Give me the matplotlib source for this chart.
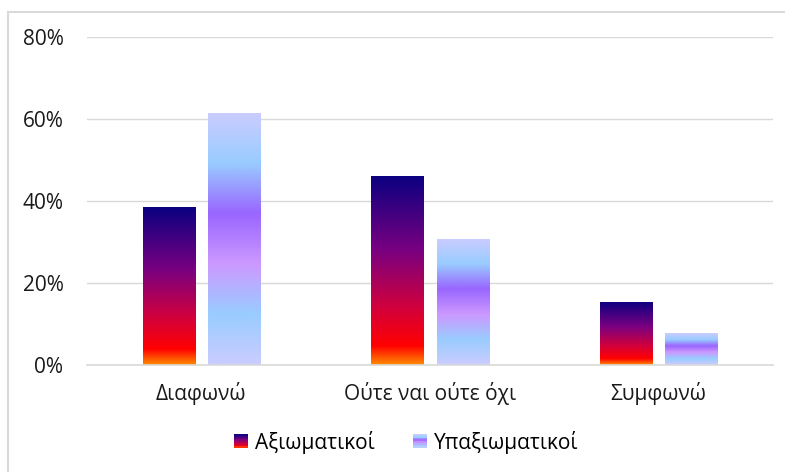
import matplotlib
matplotlib.use("Agg")
from matplotlib import pyplot as plt
from matplotlib.colors import LinearSegmentedColormap
from matplotlib.patches import Rectangle
from matplotlib.legend_handler import HandlerBase
from matplotlib.ticker import PercentFormatter
import numpy as np

plt.rcParams['font.family'] = ['Open Sans', 'Noto Sans', 'DejaVu Sans']

categories = ['Διαφωνώ', 'Ούτε ναι ούτε όχι', 'Συμφωνώ']
series_names = ['Αξιωματικοί', 'Υπαξιωματικοί']
axiomatikoi = [38.5, 46.2, 15.4]
ypaxiomatikoi = [61.5, 30.8, 7.7]

# gradients, bottom -> top
fire = LinearSegmentedColormap.from_list('fire', [
    (0.0, '#ff8c00'), (0.1, '#ff0000'), (0.3, '#d2003c'),
    (0.6, '#7a0080'), (1.0, '#0a0080')])
peacock = LinearSegmentedColormap.from_list('peacock', [
    (0.0, '#ccccff'), (0.2, '#99ccff'), (0.4, '#cc99ff'),
    (0.6, '#9966ff'), (0.8, '#99ccff'), (1.0, '#ccccff')])

fs = 15

fig = plt.figure(figsize=(7.85, 4.72), dpi=100)
ax = fig.add_axes([87/785, 1 - 365/472, 686/785, 328/472])

x = np.arange(len(categories))
w = 0.228
off = 0.143
grad = np.linspace(0, 1, 256).reshape(-1, 1)

for vals, cmap, sign in [(axiomatikoi, fire, -1), (ypaxiomatikoi, peacock, 1)]:
    bars = ax.bar(x + sign * off, vals, w, color='none', edgecolor='none', zorder=2)
    for b in bars:
        x0, y0 = b.get_x(), b.get_y()
        im = ax.imshow(grad, cmap=cmap, origin='lower', aspect='auto',
                       extent=[x0, x0 + b.get_width(), y0, y0 + b.get_height()],
                       zorder=2)
        im.set_clip_path(b)

ax.set_xlim(-0.5, 2.5)
ax.set_ylim(0, 80)
ax.set_yticks([0, 20, 40, 60, 80])
ax.yaxis.set_major_formatter(PercentFormatter(decimals=0))
ax.grid(axis='y', color='#d9d9d9', linewidth=1, zorder=0)
ax.set_axisbelow(True)
for s in ['top', 'right', 'left']:
    ax.spines[s].set_visible(False)
ax.spines['bottom'].set_color('#d9d9d9')
ax.spines['bottom'].set_linewidth(1.2)
ax.set_xticks(x)
ax.set_xticklabels(categories)
ax.tick_params(axis='both', length=0, labelsize=fs, colors='#1a1a1a')
ax.tick_params(axis='y', pad=17)
ax.tick_params(axis='x', pad=12)


class GradHandler(HandlerBase):
    def __init__(self, cmap):
        super().__init__()
        self.cmap = cmap

    def create_artists(self, legend, orig_handle, xdescent, ydescent, width,
                       height, fontsize, trans):
        n = 8
        s = 10
        x0 = xdescent + width - s
        y0 = -ydescent + (height - s) / 2
        arts = []
        for i in range(n):
            r = Rectangle((x0, y0 + i * s / n), s, s / n,
                          facecolor=self.cmap((i + 0.5) / n), edgecolor='none',
                          transform=trans)
            arts.append(r)
        return arts


h1 = Rectangle((0, 0), 1, 1)
h2 = Rectangle((0, 0), 1, 1)
fig.legend([h1, h2], series_names, loc='center', bbox_to_anchor=(407/785, 1 - 442/472),
           ncol=2, frameon=False, fontsize=fs, handlelength=0.6,
           handletextpad=0.35, columnspacing=1.9,
           handler_map={h1: GradHandler(fire), h2: GradHandler(peacock)})

fig.patches.append(Rectangle((8/785, -0.02), 1.0, 1 - 12/472 + 0.02,
                             transform=fig.transFigure, fill=False,
                             edgecolor='#d9d9d9', linewidth=1.5))

fig.savefig('out.png', dpi=100)
